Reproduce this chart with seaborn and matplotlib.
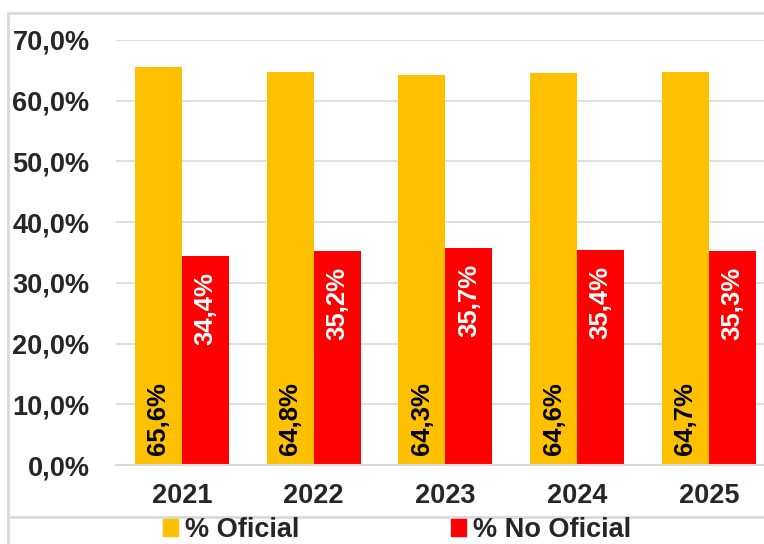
import matplotlib
matplotlib.use("Agg")
import matplotlib.pyplot as plt
import seaborn as sns
import pandas as pd
from matplotlib.lines import Line2D

years = ["2021", "2022", "2023", "2024", "2025"]
series = ["% Oficial", "% No Oficial"]
oficial = [65.6, 64.8, 64.3, 64.6, 64.7]
no_oficial = [34.4, 35.2, 35.7, 35.4, 35.3]
yticks = [0, 10, 20, 30, 40, 50, 60, 70]

colors = ["#FFC000", "#FF0000"]
grid_col = "#D9D9D9"

df = pd.DataFrame({
    "year": years * 2,
    "serie": [series[0]] * len(years) + [series[1]] * len(years),
    "value": oficial + no_oficial,
})

sns.set_theme(style="white")
plt.rcParams["font.family"] = ["Liberation Sans", "DejaVu Sans"]
plt.rcParams["font.weight"] = "bold"

fig = plt.figure(figsize=(7.64, 5.44), dpi=100)
ax = fig.add_axes([116 / 764, 79 / 544, 658.75 / 764, 425 / 544])

sns.barplot(data=df, x="year", y="value", hue="serie", palette=colors,
            width=0.714, gap=0, saturation=1, ax=ax, legend=False,
            linewidth=0, edgecolor="none")

ax.set_ylim(0, 70)
ax.set_xlim(-0.5, 4.5)
ax.set_yticks(yticks)
ax.set_yticklabels([f"{t:.1f}%".replace(".", ",") for t in yticks],
                   fontsize=19.5, fontweight="bold")
ax.tick_params(axis="y", length=0, pad=19)
ax.tick_params(axis="x", length=0, pad=13, labelsize=19.5)
for lbl in ax.get_xticklabels():
    lbl.set_fontweight("bold")
ax.set_xlabel("")
ax.set_ylabel("")
ax.yaxis.grid(True, color=grid_col, linewidth=1.2)
ax.set_axisbelow(True)
for s in ["left", "right", "top"]:
    ax.spines[s].set_visible(False)
ax.spines["bottom"].set_color(grid_col)
ax.spines["bottom"].set_linewidth(1.5)

# value labels inside bars
for i, cont in enumerate(ax.containers):
    vals = oficial if i == 0 else no_oficial
    for bar, v in zip(cont, vals):
        x = bar.get_x() + bar.get_width() / 2
        txt = f"{v:.1f}%".replace(".", ",")
        if i == 0:
            ax.text(x, 1.6, txt, rotation=90, ha="center", va="bottom",
                    fontsize=18.5, fontweight="bold", color="black")
        else:
            ax.text(x, v - 2.6, txt, rotation=90, ha="center", va="top",
                    fontsize=18.5, fontweight="bold", color="white")

handles = [plt.Rectangle((0, 0), 1, 1, color=c) for c in colors]
fig.legend(handles, series, loc="center", bbox_to_anchor=(397 / 764, 1 - 530 / 544),
           ncol=2, frameon=False, prop={"size": 19.5, "weight": "bold"},
           handlelength=0.55, handleheight=0.55,
           handletextpad=0.25, columnspacing=5.6, borderpad=0)

# chart frame lines
fig.add_artist(Line2D([8 / 764, 1], [1 - 13 / 544, 1 - 13 / 544], color=grid_col, lw=2))
fig.add_artist(Line2D([8 / 764, 8 / 764], [0, 1 - 13 / 544], color=grid_col, lw=2))
fig.add_artist(Line2D([8 / 764, 1], [1 - 517 / 544, 1 - 517 / 544], color=grid_col, lw=2))

fig.savefig("out.png", dpi=100)
